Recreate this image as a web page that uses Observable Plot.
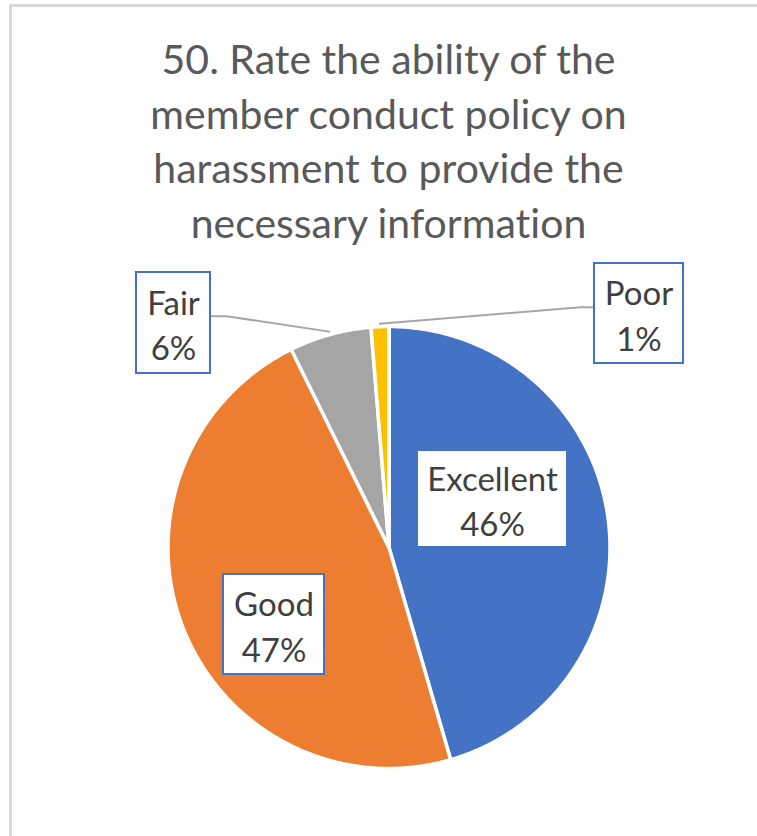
<!DOCTYPE html>
<html>
<head>
<meta charset="utf-8">
<script src="https://cdn.jsdelivr.net/npm/d3@7"></script>
<script src="https://cdn.jsdelivr.net/npm/@observablehq/plot@0.6"></script>
<style>
  html, body { margin: 0; padding: 0; background: #fff; }
  #wrap { position: relative; width: 757px; height: 836px; overflow: hidden; }
  #frame { position: absolute; left: 9px; top: 4px; width: 800px; height: 900px;
           border-left: 3px solid #D9D9D9; border-top: 3px solid #D9D9D9; }
  #title { position: absolute; left: 20px; width: 737px; top: 32px; text-align: center;
           font-family: Lato, "Open Sans", sans-serif; font-size: 41px; line-height: 54.5px;
           color: #595959; font-variant-ligatures: none; }
  #chart { position: absolute; left: 0; top: 0; }
  #chart text { font-variant-ligatures: none; }
</style>
</head>
<body>
<div id="wrap">
  <div id="frame"></div>
  <div id="chart"></div>
  <div id="title">50. Rate the ability of the<br>member conduct policy on<br>harassment to provide the<br>necessary information</div>
</div>
<script>
// ---- data ----
const categories = ["Excellent", "Good", "Fair", "Poor"];
const values = [45.5, 47.2, 6.0, 1.3];
const colors = ["#4472C4", "#ED7D31", "#A5A5A5", "#FFC000"];

// ---- layout (pixel positions) ----
const W = 757, H = 836;
const cx = 388.5, cy = 547, r = 221;
const boxes = {
  Excellent: {x1: 417, x2: 567, y1: 450, y2: 547},
  Good:      {x1: 223, x2: 324, y1: 574, y2: 674},
  Fair:      {x1: 136, x2: 210, y1: 272, y2: 373},
  Poor:      {x1: 594, x2: 683, y1: 263, y2: 363}
};
const leaderStart = {
  Fair: [[210, 315.7], [226, 315.7]],
  Poor: [[594, 306.7], [580, 306.7]]
};

const rows = categories.map((c, i) => ({category: c, value: values[i]}));
const arcs = d3.pie().sort(null).value(d => d.value)(rows);

const pt = (a, rad) => [cx + rad * Math.sin(a), cy - rad * Math.cos(a)];

// slice outlines from pie angles
const slicePts = [];
for (const a of arcs) {
  const c = a.data.category;
  slicePts.push({category: c, x: cx, y: cy});
  const n = Math.max(2, Math.ceil((a.endAngle - a.startAngle) / (Math.PI / 360)));
  for (let k = 0; k <= n; k++) {
    const ang = a.startAngle + (a.endAngle - a.startAngle) * k / n;
    const [x, y] = pt(ang, r);
    slicePts.push({category: c, x, y});
  }
  slicePts.push({category: c, x: cx, y: cy});
}

// labels
const labels = arcs.map(a => {
  const c = a.data.category;
  const b = boxes[c];
  return {category: c, ...b, tx: (b.x1 + b.x2) / 2, ty: (b.y1 + b.y2) / 2,
          text: c + "\n" + Math.round(a.data.value) + "%"};
});

// leader lines
const leaders = [];
for (const a of arcs) {
  const c = a.data.category;
  if (!leaderStart[c]) continue;
  for (const [x, y] of leaderStart[c]) leaders.push({category: c, x, y});
  const [x, y] = pt((a.startAngle + a.endAngle) / 2, r + 3);
  leaders.push({category: c, x, y});
}

const chart = Plot.plot({
  width: W, height: H,
  margin: 0,
  x: {domain: [0, W], range: [0, W], axis: null},
  y: {domain: [0, H], range: [0, H], axis: null},
  color: {domain: categories, range: colors},
  style: {background: "transparent"},
  marks: [
    Plot.line(slicePts, {x: "x", y: "y", z: "category", fill: "category",
      stroke: "white", strokeWidth: 3.5, strokeLinejoin: "round", curve: "linear"}),
    Plot.line(leaders, {x: "x", y: "y", z: "category", stroke: "#A6A6A6", strokeWidth: 2}),
    Plot.rect(labels, {x1: "x1", x2: "x2", y1: "y1", y2: "y2", fill: "white",
      stroke: "#4472C4", strokeWidth: 2}),
    Plot.text(labels, {x: "tx", y: "ty", text: "text", fill: "#404040",
      fontSize: 33, lineHeight: 1.38, fontFamily: "Lato, 'Open Sans', sans-serif"})
  ]
});
document.getElementById("chart").appendChild(chart);
</script>
</body>
</html>
